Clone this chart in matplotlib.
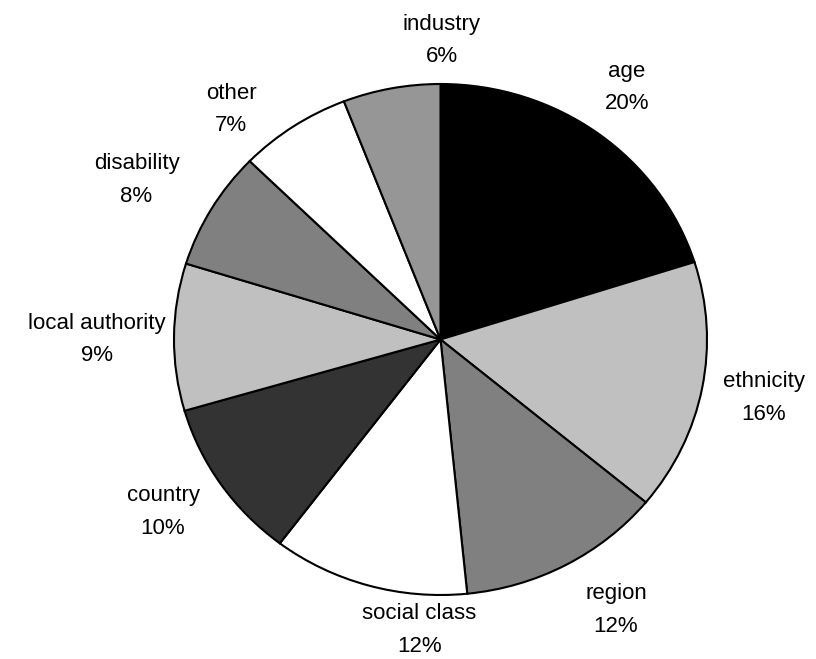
import matplotlib.pyplot as plt
import numpy as np

plt.rcParams['font.family'] = ['Liberation Sans', 'DejaVu Sans']

categories = ['age', 'ethnicity', 'region', 'social class', 'country',
              'local authority', 'disability', 'other', 'industry']
shares = [20.1, 15.9, 12.4, 11.9, 10.2, 9.3, 7.5, 6.8, 5.9]
labels_pct = [20, 16, 12, 12, 10, 9, 8, 7, 6]
colors = ['#000000', '#c0c0c0', '#808080', '#ffffff', '#333333',
          '#c0c0c0', '#808080', '#ffffff', '#969696']

# label placement: (angle nudge in degrees, radial distance)
label_nudge = [(0.9, 1.21), (0.3, 1.235), (3.8, 1.247), (11.7, 1.14), (-1.6, 1.241),
               (0.5, 1.289), (2.1, 1.30), (7.6, 1.195), (-10.8, 1.17)]

fig = plt.figure(figsize=(8.16, 6.59), dpi=100)
ax = fig.add_axes([174 / 816, 64 / 659, 533 / 816, 511 / 659])

wedges, _ = ax.pie(shares, colors=colors, startangle=90, counterclock=False,
                   wedgeprops=dict(edgecolor='black', linewidth=1.5))
ax.set_aspect('auto')
ax.set_xlim(-1, 1)
ax.set_ylim(-1, 1)
ax.axis('off')

for w, name, pct, (dang, r) in zip(wedges, categories, labels_pct, label_nudge):
    mid = np.deg2rad((w.theta1 + w.theta2) / 2 + dang)
    ax.text(r * np.cos(mid), r * np.sin(mid), f'{name}\n{pct}%',
            ha='center', va='center', fontsize=16, linespacing=1.7,
            clip_on=False)

plt.savefig('out.png', dpi=100)
